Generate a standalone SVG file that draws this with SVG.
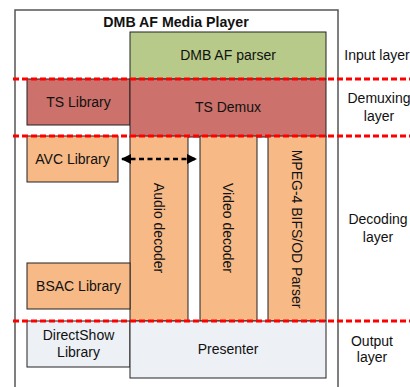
<svg xmlns="http://www.w3.org/2000/svg" width="410" height="387" viewBox="0 0 410 387">
<defs>
<style>
text{font-family:"Liberation Sans",Arial,sans-serif;fill:#111;}
.lbl{font-size:14px;text-anchor:middle;}
.side{font-size:14px;text-anchor:middle;}
.box{stroke:#222;stroke-width:1;}
.g{fill:#b7ca89;}
.r{fill:#cc716b;}
.o{fill:#f7b985;}
.w{fill:#edf0f5;}
.dash{stroke:#f00;stroke-width:3;stroke-dasharray:6,3;fill:none;}
</style>
<marker id="ah" viewBox="0 0 10 10" refX="9" refY="5" markerWidth="4" markerHeight="4" orient="auto-start-reverse">
<path d="M0,0 L10,5 L0,10 z" fill="#000"/>
</marker>
</defs>
<rect x="15" y="10" width="323" height="390" fill="#fff" stroke="#555" stroke-width="1.5"/>
<text x="176" y="27" font-size="14.2" font-weight="bold" text-anchor="middle">DMB AF Media Player</text>
<g id="dmb-af-parser"><rect class="box g" x="130" y="32" width="196" height="47"/><text class="lbl" x="228" y="60">DMB AF parser</text></g>
<g id="ts-library"><rect class="box r" x="27" y="79" width="103" height="46"/><text class="lbl" x="78.5" y="107">TS Library</text></g>
<g id="ts-demux"><rect class="box r" x="130" y="79" width="196" height="58"/><text class="lbl" x="228" y="112">TS Demux</text></g>
<g id="avc-library"><rect class="box o" x="27" y="136" width="91" height="46"/><text class="lbl" x="72.5" y="164">AVC Library</text></g>
<g id="audio-decoder"><rect class="box o" x="130" y="136" width="58" height="185"/><text class="lbl" transform="translate(154,228) rotate(90)">Audio decoder</text></g>
<g id="video-decoder"><rect class="box o" x="200" y="136" width="57" height="185"/><text class="lbl" transform="translate(223,228) rotate(90)">Video decoder</text></g>
<g id="mpeg4-parser"><rect class="box o" x="268" y="136" width="58" height="185"/><text class="lbl" transform="translate(292,229) rotate(90)">MPEG-4 BIFS/OD Parser</text></g>
<g id="bsac-library"><rect class="box o" x="27" y="263" width="103" height="46"/><text class="lbl" x="78.5" y="291">BSAC Library</text></g>
<g id="directshow-library"><rect class="box w" x="27" y="321" width="103" height="46"/><text class="lbl" x="78.5" y="340">DirectShow</text><text class="lbl" x="78.5" y="357">Library</text></g>
<g id="presenter"><rect class="box w" x="130" y="321" width="196" height="57"/><text class="lbl" x="228" y="354">Presenter</text></g>
<g id="connectors">
<path class="dash" d="M13,79 H410"/>
<path class="dash" d="M13,136 H410"/>
<path class="dash" d="M13,321 H410"/>
<path d="M122,159 H196" stroke="#000" stroke-width="2.5" stroke-dasharray="5,3.5" fill="none" marker-start="url(#ah)" marker-end="url(#ah)"/>
</g>
<g id="side-labels">
<text class="side" x="377" y="60">Input layer</text>
<text class="side" x="379" y="103">Demuxing</text>
<text class="side" x="379" y="121">layer</text>
<text class="side" x="378" y="224">Decoding</text>
<text class="side" x="378" y="242">layer</text>
<text class="side" x="372" y="346">Output</text>
<text class="side" x="372" y="362">layer</text>
</g>
</svg>
